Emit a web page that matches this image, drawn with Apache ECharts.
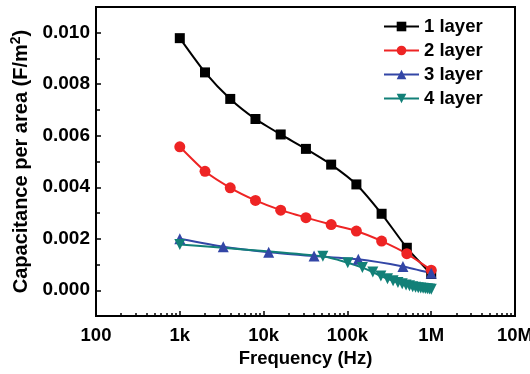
<!DOCTYPE html>
<html>
<head>
<meta charset="utf-8">
<script src="https://cdn.jsdelivr.net/npm/echarts@6/dist/echarts.min.js"></script>
<style>
  html, body { margin: 0; padding: 0; background: #fff; }
  #chart { width: 530px; height: 374px; }
</style>
</head>
<body>
<div id="chart"></div>
<script>
// frequencies in Hz
const freqLayer12 = [1000, 2000, 4000, 8000, 16000, 32000, 64000, 128000, 256000, 512000, 1000000]
const capLayer1 = [0.00979, 0.00846, 0.00743, 0.00665, 0.00605, 0.00549, 0.00488, 0.00411, 0.00297, 0.00165, 0.00063]
const capLayer2 = [0.00557, 0.00462, 0.00398, 0.00349, 0.00311, 0.00282, 0.00255, 0.0023, 0.00191, 0.00142, 0.00078]
const freqLayer3 = [1000, 3300, 11500, 40000, 135000, 460000, 1000000]
const capLayer3 = [0.00200, 0.00169, 0.00148, 0.00133, 0.00120, 0.00092, 0.00066]
const freqLayer4 = [1000, 51000, 101000, 151000, 201000, 251000, 301000, 351000, 401000, 451000, 501000,
  551000, 601000, 651000, 701000, 751000, 801000, 851000, 901000, 951000, 1001000]
const capLayer4 = [0.00178, 0.00132, 0.00107, 0.00088, 0.00071, 0.00055, 0.00045, 0.00037, 0.00030, 0.00025, 0.00020,
  0.00017, 0.00014, 0.00012, 0.00010, 0.00009, 0.00008, 0.00007, 0.00006, 0.00005, 0.00004]

const xTicks = [100, 1000, 10000, 100000, 1000000, 10000000]
const xTickLabels = ['100', '1k', '10k', '100k', '1M', '10M']
const yTicks = [0, 0.002, 0.004, 0.006, 0.008, 0.010]

const seriesNames = ['1 layer', '2 layer', '3 layer', '4 layer']
const seriesColors = ['#000000', '#ee2424', '#3346a6', '#128078']

const xMinor = []
for (let d = 100; d < 10000000; d *= 10) {
  for (let k = 2; k <= 9; k++) xMinor.push(d * k)
}

const font = 'Liberation Sans, Arial, sans-serif'
const pairs = (xs, ys) => xs.map((x, i) => [x, ys[i]])

const chart = echarts.init(document.getElementById('chart'))

const baseX = {
  type: 'log',
  logBase: 10,
  min: 100,
  max: 10000000,
  position: 'bottom',
  splitLine: { show: false }
}
const baseY = {
  type: 'value',
  min: -0.001,
  max: 0.011,
  position: 'left',
  splitLine: { show: false }
}

const option = {
  animation: false,
  grid: {
    left: 96, right: 15, top: 7, bottom: 58,
    outerBoundsMode: 'none',
    containLabel: false,
    show: true, borderColor: '#000', borderWidth: 2, backgroundColor: 'transparent'
  },
  legend: {
    orient: 'vertical',
    left: 383,
    top: 17,
    padding: 0,
    itemWidth: 35,
    itemHeight: 12,
    itemGap: 5,
    data: seriesNames,
    textStyle: { fontFamily: font, fontWeight: 'bold', fontSize: 18.5, lineHeight: 18, color: '#000' }
  },
  xAxis: [
    {
      ...baseX,
      name: 'Frequency (Hz)',
      nameLocation: 'middle',
      nameGap: 32,
      nameTextStyle: { fontFamily: font, fontWeight: 'bold', fontSize: 18.5, color: '#000' },
      axisLine: { show: true, onZero: false, lineStyle: { color: '#000', width: 2 } },
      axisTick: { show: true, inside: true, length: 5, lineStyle: { color: '#000', width: 1.5 }, customValues: xTicks },
      axisLabel: {
        show: true, margin: 10, customValues: xTicks,
        fontFamily: font, fontWeight: 'bold', fontSize: 18.5, color: '#000',
        formatter: v => xTickLabels[xTicks.findIndex(t => Math.abs(t - v) / t < 1e-6)] || ''
      }
    },
    {
      ...baseX,
      axisLine: { show: false, onZero: false },
      axisTick: { show: true, inside: true, length: 3, lineStyle: { color: '#000', width: 1.5 }, customValues: xMinor },
      axisLabel: { show: false }
    }
  ],
  yAxis: [
    {
      ...baseY,
      name: '{n|Capacitance per area (F/m}{sup|2}{n|)}',
      nameLocation: 'middle',
      nameGap: 54,
      nameTextStyle: {
        rich: {
          n: { fontFamily: font, fontWeight: 'bold', fontSize: 20, lineHeight: 24, color: '#000' },
          sup: { fontFamily: font, fontWeight: 'bold', fontSize: 14, lineHeight: 14, verticalAlign: 'top', color: '#000' }
        }
      },
      axisLine: { show: true, onZero: false, lineStyle: { color: '#000', width: 2 } },
      axisTick: { show: true, inside: true, length: 5, lineStyle: { color: '#000', width: 1.5 }, customValues: yTicks },
      axisLabel: {
        show: true, margin: 6, customValues: yTicks,
        fontFamily: font, fontWeight: 'bold', fontSize: 19, color: '#000',
        formatter: v => v.toFixed(3)
      }
    },
    {
      ...baseY,
      interval: 0.001,
      axisLine: { show: false, onZero: false },
      axisTick: { show: true, inside: true, length: 4, lineStyle: { color: '#000', width: 1.5 } },
      axisLabel: { show: false }
    }
  ],
  series: [
    {
      name: seriesNames[0], type: 'line', smooth: 0.2,
      data: pairs(freqLayer12, capLayer1),
      symbol: 'rect', symbolSize: 10,
      itemStyle: { color: seriesColors[0] }, lineStyle: { color: seriesColors[0], width: 2 }
    },
    {
      name: seriesNames[1], type: 'line', smooth: 0.2,
      data: pairs(freqLayer12, capLayer2),
      symbol: 'circle', symbolSize: 11,
      itemStyle: { color: seriesColors[1] }, lineStyle: { color: seriesColors[1], width: 2 }
    },
    {
      name: seriesNames[2], type: 'line', smooth: 0.2,
      data: pairs(freqLayer3, capLayer3),
      symbol: 'triangle', symbolSize: 11,
      itemStyle: { color: seriesColors[2] }, lineStyle: { color: seriesColors[2], width: 2 }
    },
    {
      name: seriesNames[3], type: 'line', smooth: 0.2,
      data: pairs(freqLayer4, capLayer4),
      symbol: 'triangle', symbolRotate: 180, symbolSize: 11,
      itemStyle: { color: seriesColors[3] }, lineStyle: { color: seriesColors[3], width: 2 }
    }
  ]
}

chart.setOption(option)
</script>
</body>
</html>
